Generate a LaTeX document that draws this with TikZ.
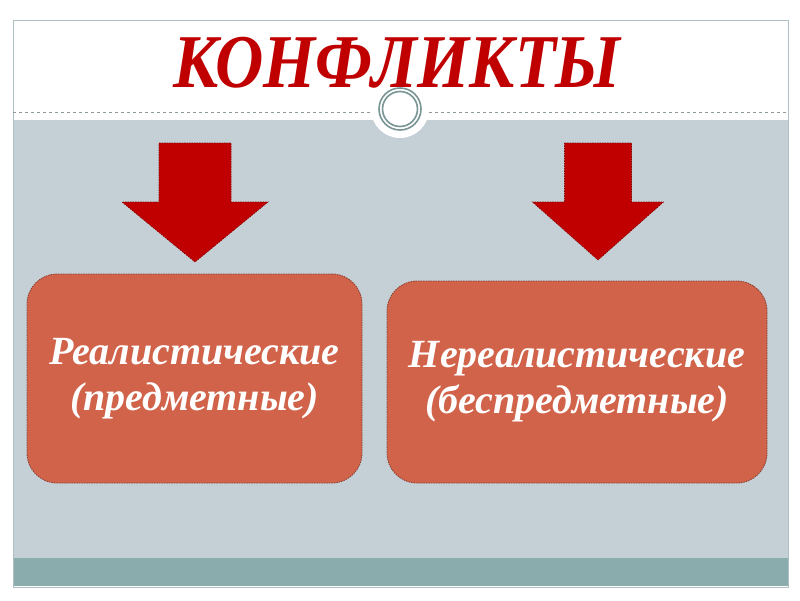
\documentclass[tikz,border=0pt]{standalone}
\usepackage{fontspec}
\setmainfont{Liberation Serif}
\usetikzlibrary{positioning}
\definecolor{panelgray}{RGB}{197,208,214}
\definecolor{barteal}{RGB}{139,172,172}
\definecolor{framegray}{RGB}{175,192,196}
\definecolor{ringgray}{RGB}{120,148,148}
\definecolor{titlered}{RGB}{192,0,0}
\definecolor{boxcoral}{RGB}{208,99,74}
\definecolor{boxedge}{RGB}{135,62,48}

\begin{document}
\begin{tikzpicture}[x=1pt, y=-1pt,
    kind/.style={draw=boxedge, fill=boxcoral, rounded corners=30pt, line width=0.8pt,
      dash pattern=on 1.5pt off 1pt, text=white, align=center,
      font=\fontsize{40}{46}\selectfont\bfseries\itshape},
    blockarrow/.style={fill=titlered, draw=titlered!70!black, line width=0.6pt,
      dash pattern=on 1.5pt off 1pt}]
  \useasboundingbox (0,0) rectangle (800,600);
  \fill[white] (0,0) rectangle (800,600);
  % slide frame: grey panel and teal bar
  \fill[panelgray] (13,120) rectangle (788,558);
  \fill[barteal] (13,558) rectangle (788,586);
  \draw[framegray, line width=0.8pt] (13,20) rectangle (788,587);
  % dashed rule and the ring
  \fill[white] (400,109) circle (29);
  \draw[framegray!80!black, dashed, line width=0.6pt] (13,112) -- (371,112);
  \draw[framegray!80!black, dashed, line width=0.6pt] (429,112) -- (788,112);
  \draw[ringgray, line width=1.6pt] (400,109) circle (21);
  \draw[ringgray, line width=1.6pt] (400,109) circle (17.5);
  \node[text=titlered, font=\fontsize{76}{76}\selectfont\bfseries\itshape, anchor=base,
    xscale=0.88, transform shape] (title) at (397,87) {КОНФЛИКТЫ};
  % down arrows: centre / half shaft / half head / tip
  \foreach \cx/\sw/\hw/\tip in {195/36/73/262, 598/33.5/65.5/260}{
    \draw[blockarrow] (\cx-\sw,143) -- (\cx+\sw,143) -- (\cx+\sw,202) -- (\cx+\hw,202)
      -- (\cx,\tip) -- (\cx-\hw,202) -- (\cx-\sw,202) -- cycle;
  }
  % the two kinds
  \node[kind, minimum width=335pt, minimum height=209pt] (real) at (194.5,378.5)
    {Реалистические\\(предметные)};
  \node[kind, minimum width=380pt, minimum height=202pt] (unreal) at (577,382)
    {Нереалистические\\(беспредметные)};
\end{tikzpicture}
\end{document}
